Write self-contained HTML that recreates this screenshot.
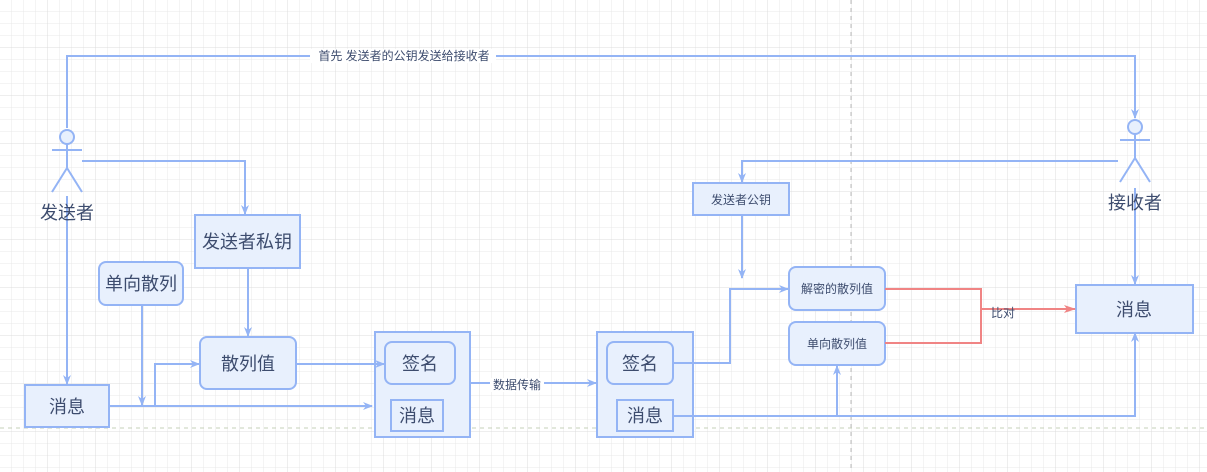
<!DOCTYPE html>
<html><head><meta charset="utf-8"><style>
html,body{margin:0;padding:0;background:#fff}
svg{display:block}
text{font-family:"Liberation Sans","Noto Sans CJK SC",sans-serif;fill:#3d4c6e}
</style></head><body>
<svg width="1207" height="472" viewBox="0 0 1207 472" xmlns="http://www.w3.org/2000/svg">
<defs>
<pattern id="g" width="12" height="12" patternUnits="userSpaceOnUse"><path d="M12 0V12H0" fill="none" stroke="#e8e8e8" stroke-width="1"/></pattern>
<pattern id="G" width="48" height="48" patternUnits="userSpaceOnUse"><path d="M48 0V48H0" fill="none" stroke="#dcdcdc" stroke-width="1"/></pattern>
<marker id="a" markerWidth="10" markerHeight="10" refX="9" refY="5" orient="auto" markerUnits="userSpaceOnUse"><path d="M0 1L10 5L0 9L3 5Z" fill="#94b4f5"/></marker>
<marker id="r" markerWidth="12" markerHeight="10" refX="11" refY="5" orient="auto" markerUnits="userSpaceOnUse"><path d="M0 1L12 5L0 9L3 5Z" fill="#f08484"/></marker>
</defs>
<rect width="1207" height="472" fill="url(#g)"/>
<rect width="1207" height="472" fill="url(#G)"/>
<line x1="851" y1="0" x2="851" y2="472" stroke="#bdbdbd" stroke-dasharray="4 4"/>
<line x1="0" y1="428" x2="1207" y2="428" stroke="#c6d0b8" stroke-dasharray="4 4"/>
<g fill="none" stroke="#94b4f5" stroke-width="2">
<!-- boxes -->
<g fill="#e8f0fd">
<rect x="195" y="215" width="105" height="53"/>
<rect x="99" y="262" width="84" height="43" rx="7"/>
<rect x="25" y="385" width="84" height="42"/>
<rect x="200" y="337" width="96" height="52" rx="7"/>
<rect x="375" y="332" width="95" height="105"/>
<rect x="597" y="332" width="96" height="105"/>
<rect x="693" y="183" width="96" height="32"/>
<rect x="789" y="267" width="96" height="43" rx="7"/>
<rect x="789" y="322" width="96" height="43" rx="7"/>
<rect x="1076" y="285" width="117" height="48"/>
<rect x="385" y="342" width="70" height="42" rx="7"/>
<rect x="391" y="400" width="52" height="31"/>
<rect x="607" y="342" width="66" height="42" rx="7"/>
<rect x="617" y="400" width="56" height="31"/>
</g>
<!-- top line -->
<path d="M67 128V56H1135V118" marker-end="url(#a)"/>
<!-- sender actor -->
<circle cx="67" cy="137" r="7" fill="#e8f0fd"/>
<path d="M67 144V168M52 150H82M67 168L52 192M67 168L82 192"/>
<path d="M67 196V384" marker-end="url(#a)"/>
<path d="M82 161H245V214" marker-end="url(#a)"/>
<!-- receiver actor -->
<circle cx="1135" cy="127" r="7" fill="#e8f0fd"/>
<path d="M1135 134V158M1120 140H1150M1135 158L1120 182M1135 158L1150 182"/>
<path d="M1135 188V284" marker-end="url(#a)"/>
<path d="M1118 161H742V182" marker-end="url(#a)"/>
<path d="M742 215V278" marker-end="url(#a)"/>
<!-- flow -->
<path d="M142 305V405" marker-end="url(#a)"/>
<path d="M109 406H372" marker-end="url(#a)"/>
<path d="M155 406V364H199" marker-end="url(#a)"/>
<path d="M248 268V336" marker-end="url(#a)"/>
<path d="M296 364H384" marker-end="url(#a)"/>
<path d="M470 383H596" marker-end="url(#a)"/>
<path d="M673 363H730V289H788" marker-end="url(#a)"/>
<path d="M673 416H1135V333" marker-end="url(#a)"/>
<path d="M837 416V366" marker-end="url(#a)"/>
</g>
<g fill="none" stroke="#f08484" stroke-width="2">
<path d="M885 289H981V343H885"/>
<path d="M981 309H1075" marker-end="url(#r)"/>
</g>
<rect x="310" y="49" width="186" height="14" fill="#fff"/>
<text x="404" y="60" font-size="12" text-anchor="middle">首先 发送者的公钥发送给接收者</text>
<text x="67" y="219" font-size="18" text-anchor="middle">发送者</text>
<text x="1135" y="209" font-size="18" text-anchor="middle">接收者</text>
<g font-size="18" text-anchor="middle">
<text x="247" y="248">发送者私钥</text>
<text x="141" y="290">单向散列</text>
<text x="67" y="413">消息</text>
<text x="248" y="370">散列值</text>
<text x="420" y="370">签名</text>
<text x="417" y="422">消息</text>
<text x="640" y="370">签名</text>
<text x="645" y="422">消息</text>
<text x="1134" y="316">消息</text>
</g>
<g font-size="12" text-anchor="middle">
<text x="741" y="204">发送者公钥</text>
<text x="837" y="293">解密的散列值</text>
<text x="837" y="348">单向散列值</text>
</g>
<rect x="490" y="378" width="54" height="14" fill="#fff"/>
<text x="517" y="389" font-size="12" text-anchor="middle">数据传输</text>
<text x="1003" y="317" font-size="12" text-anchor="middle">比对</text>
</svg>
</body></html>
